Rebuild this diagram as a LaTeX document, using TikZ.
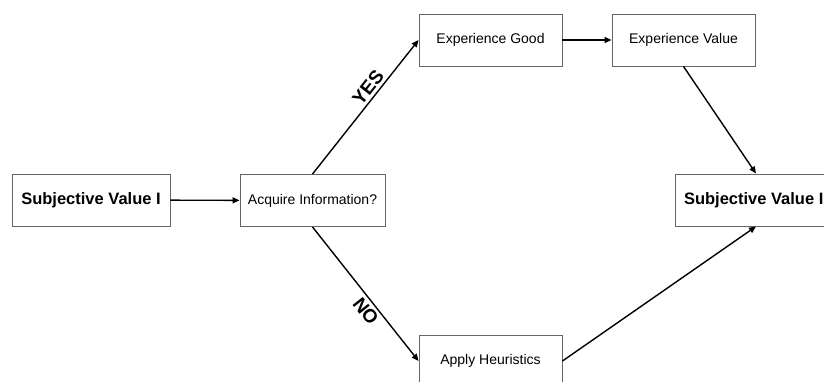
\documentclass[tikz,border=0pt]{standalone}
\usepackage{fontspec}
\setmainfont{Liberation Sans}
\usetikzlibrary{arrows.meta}

\tikzset{
    box/.style={draw=black!60, line width=0.9pt, minimum width=143pt, minimum height=52pt,
        inner sep=0pt, font=\fontsize{14}{17}\selectfont},
    bigbox/.style={box, font=\fontsize{16.5}{20}\selectfont\bfseries},
    link/.style={line width=1.4pt, -{Triangle[length=7pt,width=6pt]}},
    answer/.style={sloped, font=\fontsize{19}{22}\selectfont\bfseries, inner sep=3pt}
}

\begin{document}
\begin{tikzpicture}[x=1pt,y=1pt]
    % page size of the reference
        \clip (0,0) rectangle (824,-382);
        \fill[white] (0,0) rectangle (824,-382);

    % boxes
        \node[bigbox, minimum width=158pt] (SVa) at (91,-200) {Subjective Value I};
        \node[box, minimum width=145pt] (AI) at (312.5,-200.5) {Acquire Information?};
        \node[box] (EG) at (490.5,-40) {Experience Good};
        \node[box] (EV) at (683.5,-40) {Experience Value};
        \node[box] (AH) at (490.5,-361) {Apply Heuristics};
        \node[bigbox, minimum width=162pt] (SVb) at (756,-200) {Subjective Value II};

    % arrows
        \draw[link] (SVa) -- (AI);
        \draw[link] (AI.north) -- node[answer, above, pos=0.6] {YES} (EG.west);
        \draw[link] (AI.south) -- node[answer, below, pos=0.58] {NO} (AH.west);
        \draw[link] (EG) -- (EV);
        \draw[link] (EV.south) -- (SVb.north);
        \draw[link] (AH.east) -- (SVb.south);

    \end{tikzpicture}
\end{document}
